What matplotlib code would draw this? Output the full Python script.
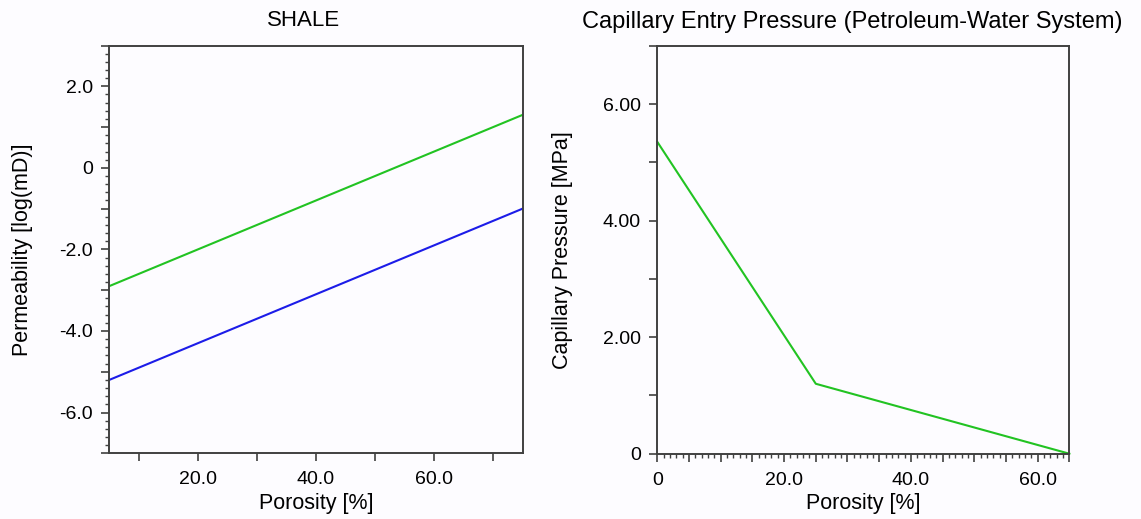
import matplotlib
matplotlib.use('Agg')
import matplotlib.pyplot as plt
import matplotlib.ticker as mticker

plt.rcParams['font.family'] = ['Liberation Sans', 'DejaVu Sans']

# ── data ──────────────────────────────────────────────────────────────
shale_porosity = [5.0, 75.0]
perm_high = [-2.9, 1.3]      # green line, log(mD)
perm_low = [-5.2, -1.0]      # blue line, log(mD)

cap_porosity = [0.0, 25.0, 65.0]
cap_pressure = [5.35, 1.2, 0.0]   # MPa

GREEN = '#22c322'
BLUE = '#1c1ce8'
SPINE = '#404040'

fig = plt.figure(figsize=(11.41, 5.19), dpi=100)
fig.patch.set_facecolor('#fdfcff')

ax1 = fig.add_axes([0.0958, 0.1266, 0.3623, 0.7857])
ax2 = fig.add_axes([0.5761, 0.1258, 0.3611, 0.7861])


def style(ax):
    ax.set_facecolor('#fdfcff')
    for s in ax.spines.values():
        s.set_color(SPINE)
        s.set_linewidth(1.4)
    ax.tick_params(which='major', direction='out', length=6, width=1.2,
                   color=SPINE, labelsize=14, pad=6)
    ax.tick_params(which='minor', direction='out', length=3, width=1.0,
                   color=SPINE)
    ax.tick_params(axis='x', pad=7)


def every_other(step, fmt):
    def f(v, pos):
        n = int(round(v / step))
        if n % 2:
            return ''
        if abs(v) < 1e-9:
            return '0'
        return fmt % v
    return mticker.FuncFormatter(f)


# ── left: SHALE permeability ─────────────────────────────────────────
style(ax1)
ax1.plot(shale_porosity, perm_high, color=GREEN, lw=1.5)
ax1.plot(shale_porosity, perm_low, color=BLUE, lw=1.5)
ax1.set_xlim(5, 75)
ax1.set_ylim(-7, 3)
ax1.xaxis.set_major_locator(mticker.MultipleLocator(10))
ax1.xaxis.set_major_formatter(mticker.FuncFormatter(
    lambda v, p: '%.1f' % v if int(round(v)) % 20 == 0 and v > 10 else ''))
ax1.yaxis.set_major_locator(mticker.MultipleLocator(1))
ax1.yaxis.set_minor_locator(mticker.MultipleLocator(0.2))
ax1.yaxis.set_major_formatter(every_other(1, '%.1f'))
ax1.set_title('SHALE', fontsize=16, pad=14, x=0.47)
ax1.set_xlabel('Porosity [%]', fontsize=15.5, labelpad=3)
ax1.set_ylabel('Permeability [log(mD)]', fontsize=15.5)
ax1.yaxis.set_label_coords(-0.185, 0.5)

# ── right: capillary entry pressure ─────────────────────────────────
style(ax2)
ax2.plot(cap_porosity, cap_pressure, color=GREEN, lw=1.5, clip_on=False)
ax2.set_xlim(0, 65)
ax2.set_ylim(0, 7)
ax2.xaxis.set_major_locator(mticker.MultipleLocator(5))
ax2.xaxis.set_minor_locator(mticker.MultipleLocator(1))
ax2.xaxis.set_major_formatter(mticker.FuncFormatter(
    lambda v, p: ('0' if abs(v) < 1e-9 else '%.1f' % v)
    if int(round(v)) % 20 == 0 else ''))
ax2.yaxis.set_major_locator(mticker.MultipleLocator(1))
ax2.yaxis.set_major_formatter(every_other(1, '%.2f'))
ax2.set_title('Capillary Entry Pressure (Petroleum-Water System)',
              fontsize=17, pad=13, x=0.474)
ax2.set_xlabel('Porosity [%]', fontsize=15.5, labelpad=3)
ax2.set_ylabel('Capillary Pressure [MPa]', fontsize=15.5)
ax2.yaxis.set_label_coords(-0.205, 0.5)

fig.savefig('out.png', dpi=100, facecolor=fig.get_facecolor())
